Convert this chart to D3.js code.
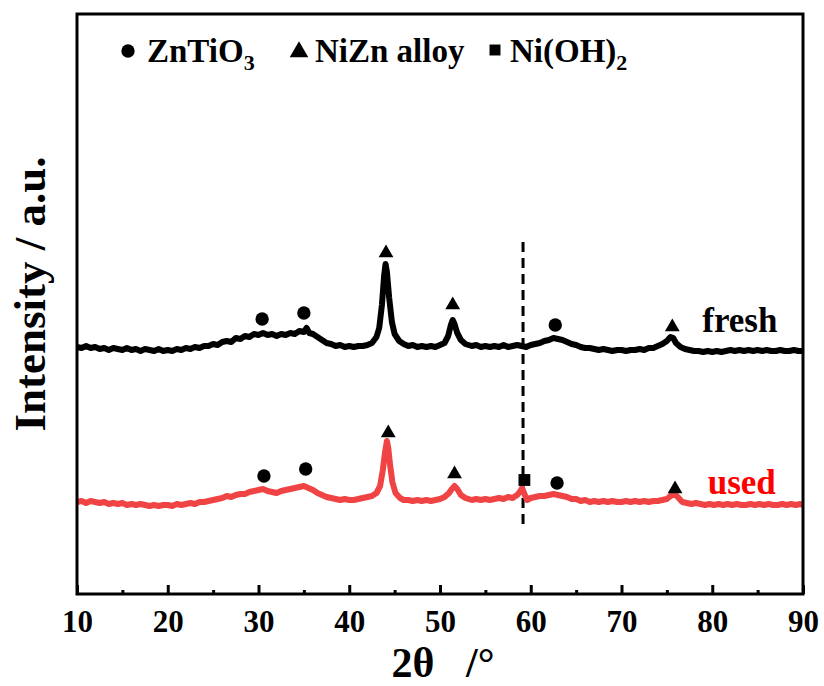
<!DOCTYPE html>
<html>
<head>
<meta charset="utf-8">
<script src="https://cdn.jsdelivr.net/npm/d3@7"></script>
<style>
  body { margin: 0; background: #fff; }
  svg text { font-family: 'Liberation Serif', 'Times New Roman', serif !important; font-weight: bold; white-space: pre; }
</style>
</head>
<body>
<script>
// XRD patterns, intensity already offset (fresh on top, used below)
const freshAngle = [10,10.5,11,11.5,12,12.5,13,13.5,14,14.5,15,15.5,16,16.5,17,17.5,18,18.5,19,19.5,20,20.5,21,21.5,22,22.5,23,23.5,24,24.5,25,25.5,26,26.5,27,27.5,28,28.5,29,29.5,30,30.5,31,31.5,32,32.5,33,33.5,34,34.5,35,35.3,35.6,36,36.5,37,37.5,38,38.5,39,39.5,40,40.5,41,41.5,42,42.5,43,43.3,43.6,43.85,44,44.15,44.4,44.7,45,45.5,46,46.5,47,47.5,48,48.5,49,49.5,50,50.5,50.9,51.2,51.4,51.6,51.9,52.3,52.8,53.5,54,54.5,55,55.5,56,56.5,57,57.5,58,58.5,59,59.5,60,60.5,61,61.5,62,62.5,63,63.5,64,64.5,65,65.5,66,66.5,67,67.5,68,68.5,69,69.5,70,70.5,71,71.5,72,72.5,73,73.5,74,74.5,75,75.4,75.7,76,76.5,77,77.5,78,78.5,79,79.5,80,80.5,81,81.5,82,82.5,83,83.5,84,84.5,85,85.5,86,86.5,87,87.5,88,88.5,89,89.5,90];
const freshIntensity = [247,246,248,246,247,245,246,244,246,245,244,246,244,245,243,245,244,243,245,243,244,243,245,244,246,245,247,246,248,248,250,249,252,253,252,256,255,258,257,260,259,261,259,260,258,260,259,261,260,263,262,266,261,260,257,254,251,250,248,249,247,248,247,248,248,249,251,257,266,289,319,330,322,296,272,260,253,250,248,249,247,248,247,248,247,249,251,258,269,274,270,261,254,250,248,249,247,248,247,248,247,249,247,248,249,248,247,249,250,251,253,254,256,255,254,252,250,249,247,246,246,245,244,245,244,243,244,244,243,244,244,245,244,246,246,248,250,253,257,256,251,247,245,244,243,243,242,243,242,243,242,243,244,243,244,243,244,243,244,243,244,243,243,244,243,243,244,243,243];

const usedAngle = [10,10.5,11,11.5,12,12.5,13,13.5,14,14.5,15,15.5,16,16.5,17,17.5,18,18.5,19,19.5,20,20.5,21,21.5,22,22.5,23,23.5,24,24.5,25,25.5,26,26.5,27,27.5,28,28.5,29,29.5,30,30.5,31,31.5,32,32.5,33,33.5,34,34.5,35,35.5,36,36.5,37,37.5,38,38.5,39,39.5,40,40.5,41,41.5,42,42.5,43,43.4,43.7,43.95,44.15,44.3,44.5,44.75,45.1,45.6,46,46.5,47,47.5,48,48.5,49,49.5,50,50.5,51,51.3,51.6,51.9,52.3,52.8,53.5,54,54.5,55,55.5,56,56.5,57,57.5,58,58.5,58.8,59.05,59.3,59.6,60,60.5,61,61.5,62,62.5,63,63.5,64,64.5,65,65.5,66,66.5,67,67.5,68,68.5,69,69.5,70,70.5,71,71.5,72,72.5,73,73.5,74,74.5,75,75.4,75.8,76.2,76.7,77.2,77.7,78.2,78.7,79.2,79.7,80.2,80.7,81.2,81.7,82.2,82.7,83.2,83.7,84.2,84.7,85.2,85.7,86.2,86.7,87.2,87.7,88.2,88.7,89.2,89.7,90];
const usedIntensity = [92,93,91,93,92,91,92,90,91,90,91,89,90,89,90,89,88,89,88,89,89,88,90,89,90,91,90,92,92,93,94,95,96,98,97,99,100,100,102,103,104,105,103,102,101,103,104,105,106,107,108,106,104,101,99,97,96,95,94,95,94,94,95,96,97,98,101,108,124,142,153,146,129,112,101,96,94,94,93,94,93,94,93,94,95,97,101,105,108,105,99,96,94,95,94,95,94,95,96,95,97,96,99,102,106,100,94,96,97,98,98,99,100,99,98,97,95,95,93,94,92,93,92,93,92,93,92,92,93,92,93,92,93,92,93,93,94,95,98,100,97,92,91,90,91,90,89,90,89,90,89,90,89,90,89,89,90,89,90,89,90,89,89,90,89,90,89,90,89];

// phase markers: [angle, intensity, phase]
const freshMarkers = [[30.4,275,'ZnTiO3'],[35.0,281,'ZnTiO3'],[44.05,341,'NiZn'],[51.4,289,'NiZn'],[62.7,269,'ZnTiO3'],[75.6,267,'NiZn']];
const usedMarkers = [[30.6,118,'ZnTiO3'],[35.2,125,'ZnTiO3'],[44.3,161,'NiZn'],[51.6,120,'NiZn'],[59.3,114,'NiOH2'],[62.9,111,'ZnTiO3'],[75.9,105,'NiZn']];

const xTicks = [10,20,30,40,50,60,70,80,90];
const xMinorTicks = [15,25,35,45,55,65,75,85];
const refAngle = 59.15;
const refRange = [69, 352];

const width = 824, height = 686;
const margin = {top: 14, right: 21, bottom: 92, left: 77};
const serif = "'Liberation Serif', 'Times New Roman', serif";

const svg = d3.select('body').append('svg')
  .attr('width', width)
  .attr('height', height);

const x = d3.scaleLinear().domain([10, 90]).range([margin.left, width - margin.right]);
const y = d3.scaleLinear().domain([0, 580]).range([height - margin.bottom, margin.top]);

const symbolFor = {
  ZnTiO3: d3.symbol().type(d3.symbolCircle).size(140),
  NiZn: d3.symbol().type(d3.symbolTriangle).size(95),
  NiOH2: d3.symbol().type(d3.symbolSquare).size(140)
};

// reference dashed line
svg.append('line')
  .attr('x1', x(refAngle)).attr('x2', x(refAngle))
  .attr('y1', y(refRange[1])).attr('y2', y(refRange[0]))
  .attr('stroke', '#000')
  .attr('stroke-width', 3)
  .attr('stroke-dasharray', '10,6');

const line = d3.line()
  .x(d => x(d[0]))
  .y(d => y(d[1]));

svg.append('path')
  .datum(freshAngle.map((a, i) => [a, freshIntensity[i]]))
  .attr('d', line)
  .attr('fill', 'none')
  .attr('stroke', '#000')
  .attr('stroke-width', 6)
  .attr('stroke-linejoin', 'round');

svg.append('path')
  .datum(usedAngle.map((a, i) => [a, usedIntensity[i]]))
  .attr('d', line)
  .attr('fill', 'none')
  .attr('stroke', '#f04444')
  .attr('stroke-width', 6)
  .attr('stroke-linejoin', 'round');

svg.selectAll('path.marker')
  .data(freshMarkers.concat(usedMarkers)).enter()
  .append('path')
  .attr('class', 'marker')
  .attr('d', d => symbolFor[d[2]]())
  .attr('transform', d => `translate(${x(d[0])},${y(d[1])})`)
  .attr('fill', '#000');

// curve labels
svg.append('text')
  .attr('x', x(78.9)).attr('y', y(262))
  .style('font-family', serif)
  .attr('font-size', 35)
  .attr('fill', '#000')
  .text('fresh');

svg.append('text')
  .attr('x', x(79.5)).attr('y', y(100))
  .style('font-family', serif)
  .attr('font-size', 35)
  .attr('fill', '#ff0000')
  .text('used');

// axes
const xAxis = svg.append('g')
  .attr('transform', `translate(0,${height - margin.bottom})`)
  .call(d3.axisBottom(x).tickValues(xTicks).tickSizeInner(-9).tickSizeOuter(0).tickPadding(16));
xAxis.select('.domain').remove();
xAxis.selectAll('line').attr('stroke-width', 3);
xAxis.selectAll('text')
  .style('font-family', serif)
  .style('font-size', '31px')
  .style('font-weight', 'bold');

const xMinor = svg.append('g')
  .attr('transform', `translate(0,${height - margin.bottom})`)
  .call(d3.axisBottom(x).tickValues(xMinorTicks).tickSizeInner(-4).tickSizeOuter(0).tickFormat(''));
xMinor.select('.domain').remove();
xMinor.selectAll('line').attr('stroke-width', 3);

// frame
svg.append('rect')
  .attr('x', margin.left).attr('y', margin.top)
  .attr('width', width - margin.left - margin.right)
  .attr('height', height - margin.top - margin.bottom)
  .attr('fill', 'none')
  .attr('stroke', '#000')
  .attr('stroke-width', 3);

// axis titles
svg.append('text')
  .attr('x', 443).attr('y', 677)
  .attr('text-anchor', 'middle')
  .style('font-family', serif)
  .attr('font-size', 42)
  .text('2θ   /°');

svg.append('text')
  .attr('transform', 'translate(45,294) rotate(-90)')
  .attr('text-anchor', 'middle')
  .style('font-family', serif)
  .attr('font-size', 45)
  .text('Intensity / a.u.');

// legend
const legend = svg.append('g');
legend.append('path').attr('d', symbolFor.ZnTiO3()).attr('transform', 'translate(128,51)');
const l1 = legend.append('text').attr('x', 147).attr('y', 62).style('font-family', serif).attr('font-size', 33);
l1.append('tspan').text('ZnTiO');
l1.append('tspan').attr('font-size', 22).attr('dy', 8).text('3');

legend.append('path').attr('d', d3.symbol().type(d3.symbolTriangle).size(150)()).attr('transform', 'translate(299,52)');
legend.append('text').attr('x', 315).attr('y', 62).style('font-family', serif).attr('font-size', 33).text('NiZn alloy');

legend.append('path').attr('d', d3.symbol().type(d3.symbolSquare).size(120)()).attr('transform', 'translate(495,50)');
const l3 = legend.append('text').attr('x', 510).attr('y', 62).style('font-family', serif).attr('font-size', 33);
l3.append('tspan').text('Ni(OH)');
l3.append('tspan').attr('font-size', 22).attr('dy', 8).text('2');
</script>
</body>
</html>
